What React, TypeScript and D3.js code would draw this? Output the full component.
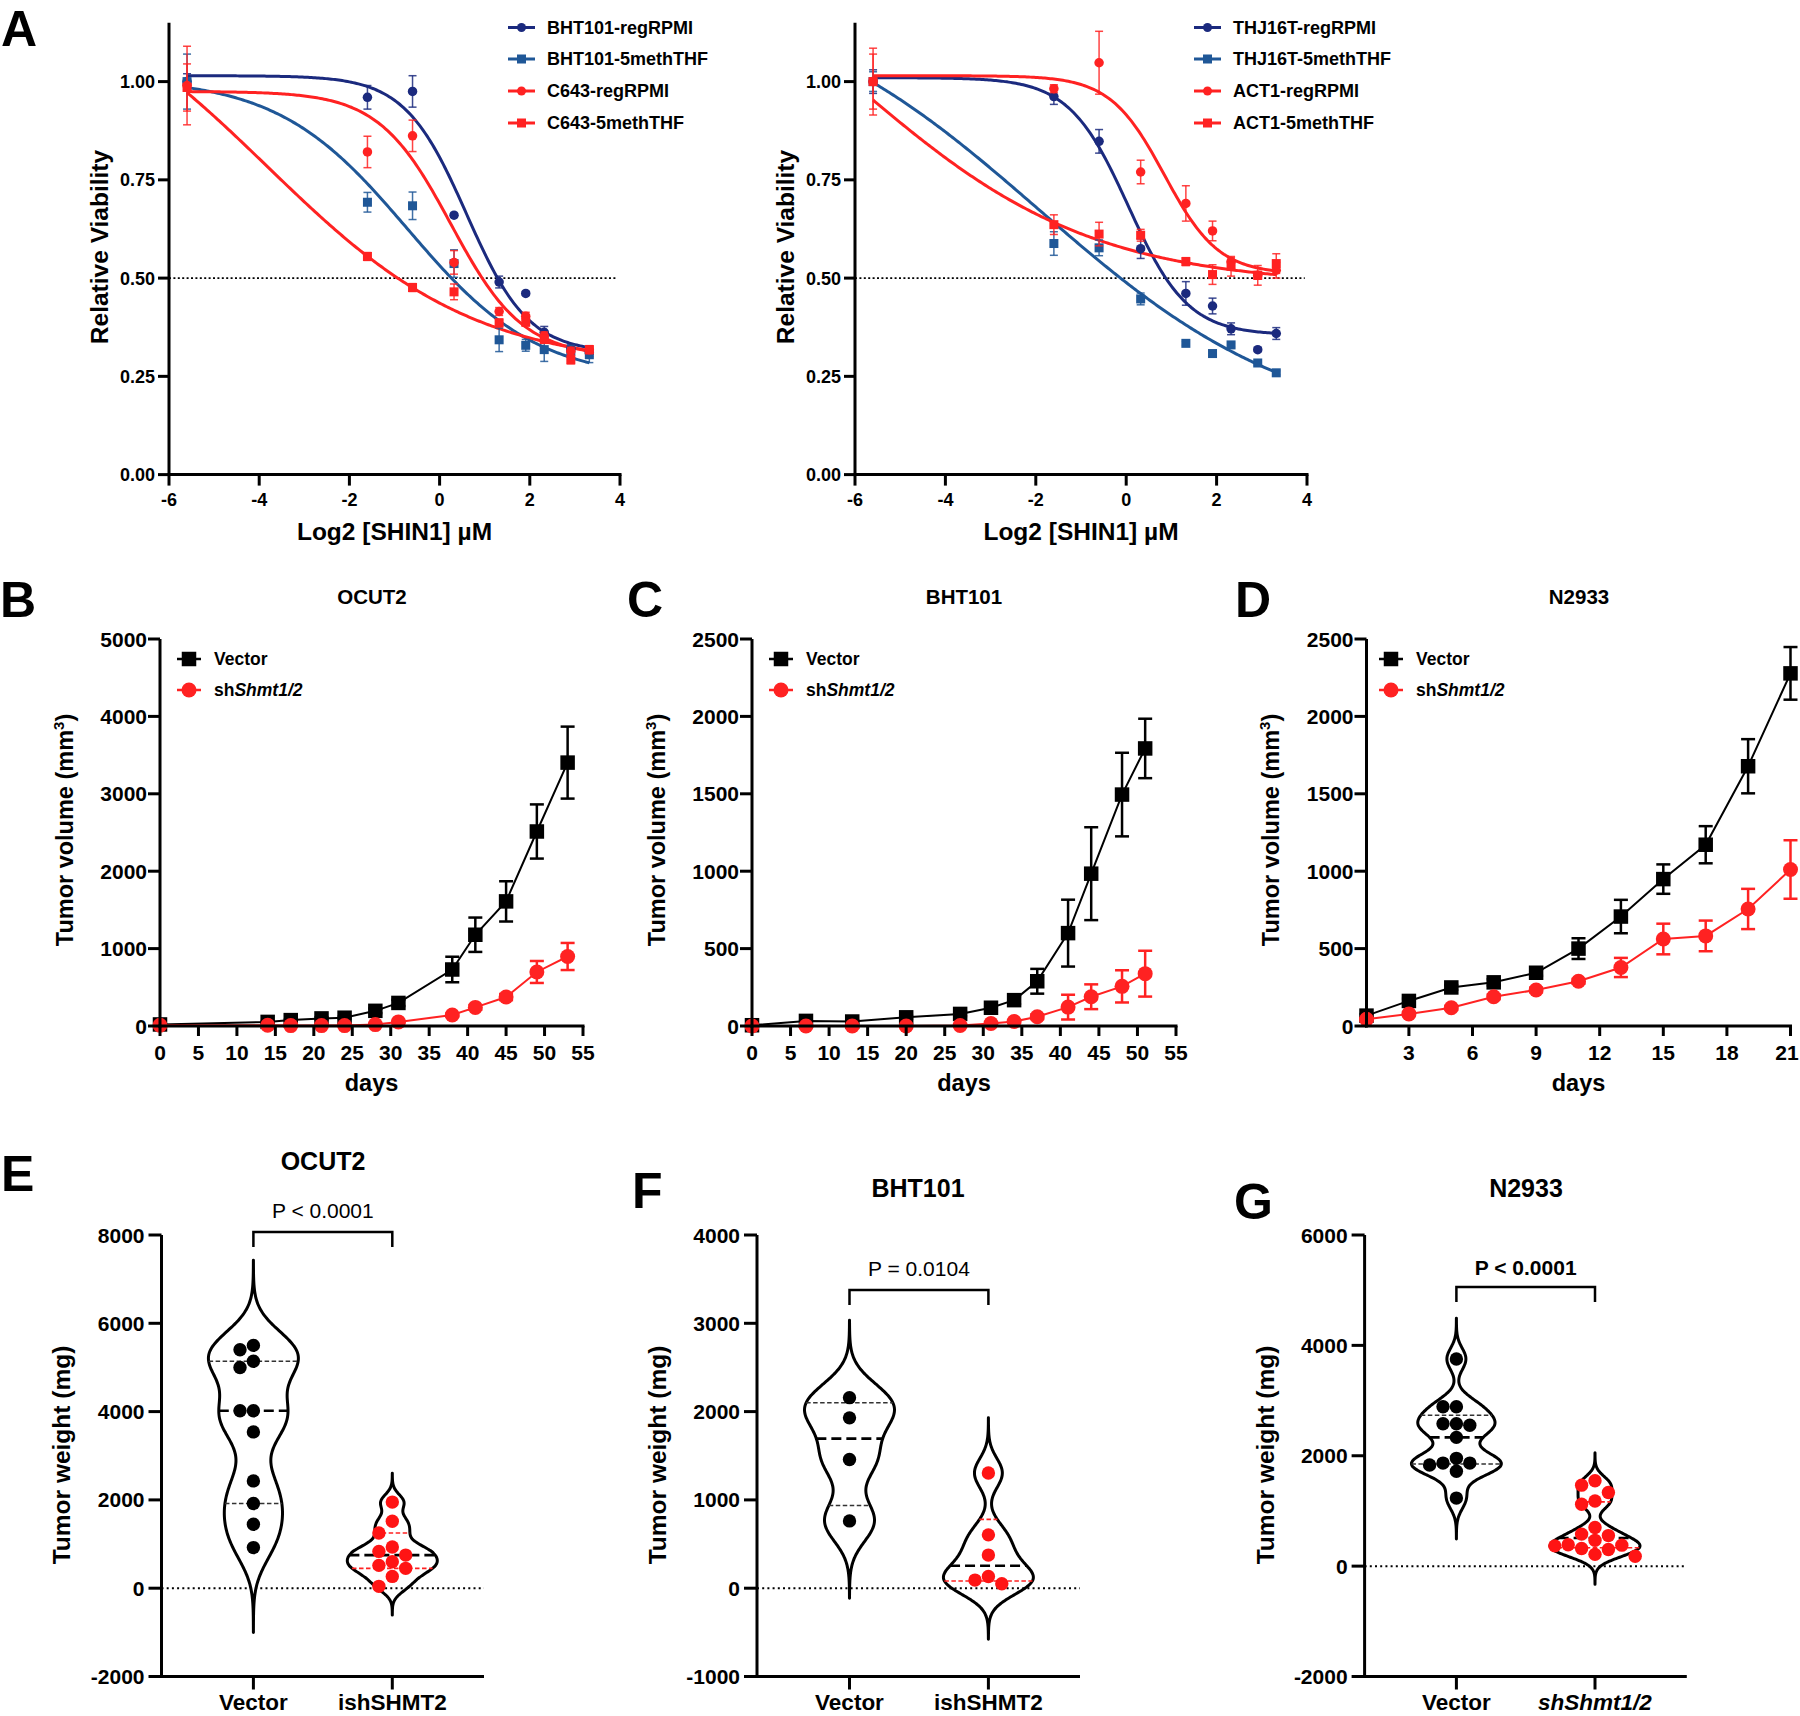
import React from "react";
import * as d3 from "d3";

const FONT = "'Liberation Sans', Arial, Helvetica, sans-serif";
const NAVY = "#1b2a7e";
const BLUE = "#1f5797";
const RED = "#ff2222";
const DOT_RED = "#ff1414";

// ---------- Panel A: dose response (log2 [SHIN1] uM) ----------
const doses = [-5.6, -1.6, -0.6, 0.32, 1.32, 1.91, 2.32, 2.91, 3.32];
const aTicksX = [-6, -4, -2, 0, 2, 4];
const aTicksY = [0, 0.25, 0.5, 0.75, 1.0];

const bht101Reg = [1.0, 0.96, 0.975, 0.66, 0.49, 0.461, 0.362, 0.32, 0.31];
const bht101RegErr = [0.02, 0.03, 0.04, 0.005, 0.015, 0.005, 0.015, 0.01, 0.01];
const bht101RegFit = [1.015, 0.31, 0.6, 2.1]; // top, bottom, mid (log2), hill
const bht101Meth = [1.0, 0.693, 0.684, 0.537, 0.343, 0.329, 0.318, 0.314, 0.305];
const bht101MethErr = [0.07, 0.025, 0.035, 0.035, 0.03, 0.015, 0.03, 0.015, 0.02];
const bht101MethFit = [1.01, 0.24, -0.71, 1.0];
const c643Reg = [0.99, 0.821, 0.862, 0.54, 0.415, 0.403, 0.353, 0.314, 0.318];
const c643RegErr = [0.1, 0.04, 0.04, 0.03, 0.01, 0.01, 0.01, 0.01, 0.01];
const c643RegFit = [0.975, 0.3, 0.25, 1.8];
const c643Meth = [0.985, 0.555, 0.476, 0.465, 0.386, 0.388, 0.344, 0.292, 0.318];
const c643MethErr = [0.06, 0.01, 0.01, 0.02, 0.01, 0.01, 0.01, 0.01, 0.01];
const c643MethFit = [1.3, 0.27, -3.83, 0.62];

const thj16tReg = [1.0, 0.962, 0.848, 0.575, 0.461, 0.429, 0.371, 0.318, 0.359];
const thj16tRegErr = [0.03, 0.02, 0.03, 0.025, 0.03, 0.02, 0.015, 0.005, 0.015];
const thj16tRegFit = [1.01, 0.355, 0.05, 2.2];
const thj16tMeth = [1.0, 0.588, 0.577, 0.447, 0.334, 0.308, 0.33, 0.284, 0.259];
const thj16tMethErr = [0.025, 0.03, 0.02, 0.015, 0.005, 0.005, 0.005, 0.005, 0.005];
const thj16tMethFit = [1.25, 0.1, -1.94, 0.5];
const act1Reg = [1.0, 0.982, 1.048, 0.77, 0.69, 0.62, 0.542, 0.507, 0.52];
const act1RegErr = [0.085, 0.01, 0.08, 0.03, 0.045, 0.025, 0.01, 0.01, 0.02];
const act1RegFit = [1.015, 0.51, 0.845, 2.4];
const act1Meth = [1.0, 0.636, 0.612, 0.609, 0.542, 0.509, 0.53, 0.507, 0.537];
const act1MethErr = [0.07, 0.025, 0.03, 0.015, 0.01, 0.025, 0.025, 0.025, 0.025];
const act1MethFit = [1.5, 0.48, -5.98, 0.55];

// ---------- Panels B-D: tumor growth ----------
const bDays = [0, 14, 17, 21, 24, 28, 31, 38, 41, 45, 49, 53];
const bVector = [20, 53, 76, 98, 107, 196, 298, 730, 1179, 1610, 2513, 3403];
const bVectorErr = [5, 10, 10, 15, 15, 30, 40, 165, 222, 260, 350, 465];
const bSh = [10, 9, 5, 5, 5, 18, 53, 142, 240, 374, 698, 898];
const bShErr = [2, 2, 2, 2, 2, 5, 10, 20, 30, 40, 142, 175];

const cDays = [0, 7, 13, 20, 27, 31, 34, 37, 41, 44, 48, 51];
const cVector = [5, 33, 29, 56, 78, 118, 167, 289, 600, 984, 1495, 1793];
const cVectorErr = [2, 8, 8, 10, 15, 20, 25, 80, 216, 300, 270, 192];
const cSh = [0, 0, 0, 0, 3, 16, 29, 60, 122, 189, 256, 338];
const cShErr = [0, 0, 0, 0, 2, 5, 8, 15, 80, 80, 104, 148];

const dDays = [1, 3, 5, 7, 9, 11, 13, 15, 17, 19, 21];
const dVector = [67, 162, 249, 282, 344, 500, 707, 949, 1171, 1678, 2278];
const dVectorErr = [10, 15, 15, 20, 20, 67, 108, 95, 120, 175, 170];
const dSh = [44, 78, 118, 189, 233, 289, 378, 562, 582, 756, 1011];
const dShErr = [8, 10, 12, 15, 15, 15, 62, 99, 99, 130, 189];

const bcTicksX = [0, 5, 10, 15, 20, 25, 30, 35, 40, 45, 50, 55];
const dTicksX = [3, 6, 9, 12, 15, 18, 21];

// ---------- Panels E-G: tumor weight (mg) ----------
const eVector = [5500, 5400, 5140, 5000, 4020, 4020, 3540, 2430, 1920, 1450, 920];
const eSh = [1950, 1517, 1250, 933, 833, 750, 600, 517, 450, 267, 42];
const fVector = [2158, 1929, 1458, 762];
const fSh = [1304, 604, 375, 133, 92, 50];
const gVector = [3753, 2887, 2887, 2580, 2580, 2553, 2333, 1953, 1867, 1867, 1833, 1720, 1233];
const gSh = [1547, 1467, 1333, 1180, 1120, 700, 580, 553, 467, 387, 380, 367, 320, 300, 213, 180];

// ---------- helpers ----------
type Fit = number[];
function fitY(fit: Fit, x: number) {
  const [top, bottom, mid, hill] = fit;
  return bottom + (top - bottom) / (1 + Math.pow(2, (x - mid) * hill));
}

function quant(values: number[], p: number) {
  const s = [...values].sort((a, b) => a - b);
  const n = s.length;
  const pos = p * (n + 1);
  if (pos <= 1) return s[0];
  if (pos >= n) return s[n - 1];
  const i = Math.floor(pos);
  return s[i - 1] + (pos - i) * (s[i] - s[i - 1]);
}

function Marker({ shape, cx, cy, size, color }: any) {
  if (shape === "square")
    return <rect x={cx - size / 2} y={cy - size / 2} width={size} height={size} fill={color} />;
  return <circle cx={cx} cy={cy} r={size / 2} fill={color} />;
}

// ---------- Panel A ----------
type DoseSeries = { name: string; color: string; shape: string; values: number[]; err: number[]; fit: Fit };

const aLeft: DoseSeries[] = [
  { name: "BHT101-regRPMI", color: NAVY, shape: "circle", values: bht101Reg, err: bht101RegErr, fit: bht101RegFit },
  { name: "BHT101-5methTHF", color: BLUE, shape: "square", values: bht101Meth, err: bht101MethErr, fit: bht101MethFit },
  { name: "C643-regRPMI", color: RED, shape: "circle", values: c643Reg, err: c643RegErr, fit: c643RegFit },
  { name: "C643-5methTHF", color: RED, shape: "square", values: c643Meth, err: c643MethErr, fit: c643MethFit },
];
const aRight: DoseSeries[] = [
  { name: "THJ16T-regRPMI", color: NAVY, shape: "circle", values: thj16tReg, err: thj16tRegErr, fit: thj16tRegFit },
  { name: "THJ16T-5methTHF", color: BLUE, shape: "square", values: thj16tMeth, err: thj16tMethErr, fit: thj16tMethFit },
  { name: "ACT1-regRPMI", color: RED, shape: "circle", values: act1Reg, err: act1RegErr, fit: act1RegFit },
  { name: "ACT1-5methTHF", color: RED, shape: "square", values: act1Meth, err: act1MethErr, fit: act1MethFit },
];

function DosePanel({ x0, x1, legX, ylabX, series }: any) {
  const x = d3.scaleLinear().domain([-6, 4]).range([x0, x1]);
  const y = d3.scaleLinear().domain([0, 1.15]).range([474.6, 22.65]);
  const grid = d3.range(doses[0], doses[doses.length - 1] + 0.0001, 0.04);
  const line = d3.line<number>().x((d) => x(d)).curve(d3.curveLinear);
  const legRows = [27.5, 59, 91, 123];
  return (
    <g fontFamily={FONT}>
      {/* 50% line */}
      <line x1={x(-6)} x2={x(3.95)} y1={y(0.5)} y2={y(0.5)} stroke="#000" strokeWidth={1.6} strokeDasharray="2,2.4" />
      {series.map((s: DoseSeries, i: number) => (
        <path key={"c" + i} d={line.y((d) => y(fitY(s.fit, d)))(grid) || ""} fill="none" stroke={s.color} strokeWidth={3} />
      ))}
      {series.map((s: DoseSeries, i: number) => (
        <g key={"p" + i}>
          {s.values.map((v, j) => (
            <g key={j} stroke={s.color} strokeWidth={1.5} strokeOpacity={0.85}>
              <line x1={x(doses[j])} x2={x(doses[j])} y1={y(v - s.err[j])} y2={y(v + s.err[j])} />
              <line x1={x(doses[j]) - 4} x2={x(doses[j]) + 4} y1={y(v - s.err[j])} y2={y(v - s.err[j])} />
              <line x1={x(doses[j]) - 4} x2={x(doses[j]) + 4} y1={y(v + s.err[j])} y2={y(v + s.err[j])} />
            </g>
          ))}
          {s.values.map((v, j) => (
            <Marker key={"m" + j} shape={s.shape} cx={x(doses[j])} cy={y(v)} size={s.shape === "square" ? 9 : 9.5} color={s.color} />
          ))}
        </g>
      ))}
      {/* axes */}
      <line x1={x0} x2={x0} y1={y(1.15)} y2={y(0) + 1.5} stroke="#000" strokeWidth={3} />
      <line x1={x0 - 1.5} x2={x1 + 1.5} y1={y(0)} y2={y(0)} stroke="#000" strokeWidth={3} />
      {aTicksY.map((t) => (
        <g key={t}>
          <line x1={x0 - 11} x2={x0} y1={y(t)} y2={y(t)} stroke="#000" strokeWidth={3} />
          <text x={x0 - 14} y={y(t)} dy="0.36em" textAnchor="end" fontSize={18} fontWeight="bold">
            {d3.format(".2f")(t)}
          </text>
        </g>
      ))}
      {aTicksX.map((t) => (
        <g key={t}>
          <line x1={x(t)} x2={x(t)} y1={y(0)} y2={y(0) + 11} stroke="#000" strokeWidth={3} />
          <text x={x(t)} y={506} textAnchor="middle" fontSize={18} fontWeight="bold">
            {String(t)}
          </text>
        </g>
      ))}
      <text x={(x0 + x1) / 2} y={540} textAnchor="middle" fontSize={24.5} fontWeight="bold">
        Log2 [SHIN1] µM
      </text>
      <text transform={`translate(${ylabX},247) rotate(-90)`} dy="0.36em" textAnchor="middle" fontSize={24.5} fontWeight="bold">
        Relative Viability
      </text>
      {/* legend */}
      {series.map((s: DoseSeries, i: number) => (
        <g key={"l" + i}>
          <line x1={legX} x2={legX + 27} y1={legRows[i]} y2={legRows[i]} stroke={s.color} strokeWidth={3} />
          <Marker shape={s.shape} cx={legX + 13.5} cy={legRows[i]} size={9} color={s.color} />
          <text x={legX + 39} y={legRows[i]} dy="0.36em" fontSize={18} fontWeight="bold">
            {s.name}
          </text>
        </g>
      ))}
    </g>
  );
}

// ---------- Panels B-D ----------
function GrowthPanel({ xDomain, xRange, yMax, yStep, xTicks, days, vec, vecErr, sh, shErr, title, titleX, legX, ylabX }: any) {
  const x = d3.scaleLinear().domain(xDomain).range(xRange);
  const y = d3.scaleLinear().domain([0, yMax]).range([1026, 639]);
  const yTicks = d3.range(0, yMax + 1, yStep);
  const ax = xRange[0];
  const lineGen = d3.line<number>().x((_, i) => x(days[i])).y((d) => y(d));
  const errBars = (vals: number[], errs: number[], color: string) =>
    vals.map((v, i) => (
      <g key={i} stroke={color} strokeWidth={2.5}>
        <line x1={x(days[i])} x2={x(days[i])} y1={y(v - errs[i])} y2={y(v + errs[i])} />
        <line x1={x(days[i]) - 7} x2={x(days[i]) + 7} y1={y(v + errs[i])} y2={y(v + errs[i])} />
        <line x1={x(days[i]) - 7} x2={x(days[i]) + 7} y1={y(Math.max(0, v - errs[i]))} y2={y(Math.max(0, v - errs[i]))} />
      </g>
    ));
  return (
    <g fontFamily={FONT}>
      <text x={titleX} y={604} textAnchor="middle" fontSize={20.5} fontWeight="bold">
        {title}
      </text>
      {/* series */}
      <path d={lineGen(vec) || ""} fill="none" stroke="#000" strokeWidth={2} />
      {errBars(vec, vecErr, "#000")}
      {vec.map((v: number, i: number) => (
        <Marker key={"v" + i} shape="square" cx={x(days[i])} cy={y(v)} size={14.5} color="#000" />
      ))}
      <path d={lineGen(sh) || ""} fill="none" stroke={RED} strokeWidth={2} />
      {errBars(sh, shErr, RED)}
      {sh.map((v: number, i: number) => (
        <Marker key={"s" + i} shape="circle" cx={x(days[i])} cy={y(v)} size={15} color={RED} />
      ))}
      {/* axes */}
      <line x1={ax} x2={ax} y1={y(yMax)} y2={y(0) + 1.5} stroke="#000" strokeWidth={3} />
      <line x1={ax - 1.5} x2={xRange[1] + 1.5} y1={y(0)} y2={y(0)} stroke="#000" strokeWidth={3} />
      {yTicks.map((t: number) => (
        <g key={t}>
          <line x1={ax - 12} x2={ax} y1={y(t)} y2={y(t)} stroke="#000" strokeWidth={3} />
          <text x={ax - 13} y={y(t)} dy="0.36em" textAnchor="end" fontSize={21} fontWeight="bold">
            {String(t)}
          </text>
        </g>
      ))}
      {xTicks.map((t: number) => (
        <g key={t}>
          <line x1={x(t)} x2={x(t)} y1={y(0)} y2={y(0) + 10} stroke="#000" strokeWidth={3} />
          <text x={Math.min(x(t), 1787)} y={1060} textAnchor="middle" fontSize={21} fontWeight="bold">
            {String(t)}
          </text>
        </g>
      ))}
      <text x={(xRange[0] + xRange[1]) / 2} y={1091} textAnchor="middle" fontSize={23.5} fontWeight="bold">
        days
      </text>
      <text transform={`translate(${ylabX},830) rotate(-90)`} dy="0.36em" textAnchor="middle" fontSize={23.5} fontWeight="bold">
        Tumor volume (mm<tspan dy={-9} fontSize={15}>3</tspan>
        <tspan dy={9}>)</tspan>
      </text>
      {/* legend */}
      <line x1={legX - 12} x2={legX + 12} y1={659} y2={659} stroke="#000" strokeWidth={2.5} />
      <Marker shape="square" cx={legX} cy={659} size={14.5} color="#000" />
      <text x={legX + 25} y={659} dy="0.36em" fontSize={17.5} fontWeight="bold">
        Vector
      </text>
      <line x1={legX - 12} x2={legX + 12} y1={690} y2={690} stroke={RED} strokeWidth={2.5} />
      <Marker shape="circle" cx={legX} cy={690} size={15} color={RED} />
      <text x={legX + 25} y={690} dy="0.36em" fontSize={17.5} fontWeight="bold">
        sh<tspan fontStyle="italic">Shmt1/2</tspan>
      </text>
    </g>
  );
}

// ---------- Panels E-G ----------
function violin(values: number[]) {
  const n = values.length;
  const sd = d3.deviation(values) || 1;
  const h = 0.5 * sd * Math.pow(n, -0.2);
  const lo = (d3.min(values) as number) - 3.75 * h;
  const hi = (d3.max(values) as number) + 3.75 * h;
  const dens = (p: number) => d3.sum(values, (v) => Math.exp(-0.5 * ((p - v) / h) ** 2));
  const pts = d3.range(0, 201).map((i) => lo + ((hi - lo) * i) / 200);
  const dmax = d3.max(pts, dens) as number;
  return { pts: pts.map((p) => [p, dens(p) / dmax] as [number, number]), at: (p: number) => dens(p) / dmax };
}

function swarm(values: number[], py: (v: number) => number, r: number) {
  const placed: { x: number; y: number }[] = [];
  return values.map((v) => {
    const yy = py(v);
    let off = 0;
    for (let k = 0; k < 30; k++) {
      const o = k === 0 ? 0 : (k % 2 ? -1 : 1) * Math.ceil(k / 2) * 2 * r;
      if (placed.every((p) => Math.hypot(p.x - o, p.y - yy) >= 2 * r - 0.6)) {
        off = o;
        break;
      }
    }
    placed.push({ x: off, y: yy });
    return { off, yy };
  });
}

function ViolinPanel({ axisX, axisEnd, cats, yDomain, yStep, groups, labels, title, titleX, pText, pBold, pY, bracketY, ylabX }: any) {
  const y = d3.scaleLinear().domain(yDomain).range([1676.5, 1235]);
  const yTicks = d3.range(yDomain[0], yDomain[1] + 1, yStep);
  const W = 45;
  const r = 6.7;
  return (
    <g fontFamily={FONT}>
      <text x={titleX} y={title.y} textAnchor="middle" fontSize={25} fontWeight="bold">
        {title.text}
      </text>
      {/* zero line */}
      <line x1={axisX} x2={axisEnd} y1={y(0)} y2={y(0)} stroke="#000" strokeWidth={2} strokeDasharray="2,3.2" />
      {groups.map((g: any, gi: number) => {
        const cx = cats[gi];
        const vi = violin(g.values);
        const area = d3
          .area<[number, number]>()
          .y((d) => y(d[0]))
          .x0((d) => cx - W * d[1])
          .x1((d) => cx + W * d[1])
          .curve(d3.curveBasis);
        const q1 = quant(g.values, 0.25);
        const med = quant(g.values, 0.5);
        const q3 = quant(g.values, 0.75);
        const dots = swarm(g.values, y, r);
        return (
          <g key={gi}>
            <path d={area(vi.pts) || ""} fill="none" stroke="#000" strokeWidth={3} strokeLinejoin="round" />
            {[q1, q3].map((q, qi) => (
              <line key={qi} x1={cx - W * vi.at(q)} x2={cx + W * vi.at(q)} y1={y(q)} y2={y(q)} stroke={g.qColor} strokeWidth={1.6} strokeDasharray="4.5,2.5" />
            ))}
            <line x1={cx - W * vi.at(med)} x2={cx + W * vi.at(med)} y1={y(med)} y2={y(med)} stroke="#000" strokeWidth={2.6} strokeDasharray="10,5" />
            {dots.map((d, di) => (
              <circle key={di} cx={cx + d.off} cy={d.yy} r={r} fill={g.color} />
            ))}
          </g>
        );
      })}
      {/* bracket */}
      <path d={`M${cats[0]},${bracketY + 15}V${bracketY}H${cats[1]}V${bracketY + 15}`} fill="none" stroke="#000" strokeWidth={2.5} />
      <text x={(cats[0] + cats[1]) / 2} y={pY} textAnchor="middle" fontSize={21} fontWeight={pBold ? "bold" : "normal"}>
        {pText}
      </text>
      {/* axes */}
      <line x1={axisX} x2={axisX} y1={y(yDomain[1])} y2={y(yDomain[0]) + 1.5} stroke="#000" strokeWidth={3} />
      <line x1={axisX - 1.5} x2={axisEnd} y1={y(yDomain[0])} y2={y(yDomain[0])} stroke="#000" strokeWidth={3} />
      {yTicks.map((t: number) => (
        <g key={t}>
          <line x1={axisX - 13} x2={axisX} y1={y(t)} y2={y(t)} stroke="#000" strokeWidth={3} />
          <text x={axisX - 17} y={y(t)} dy="0.36em" textAnchor="end" fontSize={21} fontWeight="bold">
            {String(t)}
          </text>
        </g>
      ))}
      {cats.map((c: number, i: number) => (
        <g key={i}>
          <line x1={c} x2={c} y1={y(yDomain[0])} y2={y(yDomain[0]) + 13} stroke="#000" strokeWidth={3} />
          <text x={c} y={1710} textAnchor="middle" fontSize={22.5} fontWeight="bold" fontStyle={labels[i].italic ? "italic" : "normal"}>
            {labels[i].text}
          </text>
        </g>
      ))}
      <text transform={`translate(${ylabX},1455) rotate(-90)`} dy="0.36em" textAnchor="middle" fontSize={24.5} fontWeight="bold">
        Tumor weight (mg)
      </text>
    </g>
  );
}

function Letter({ x, y, t }: any) {
  return (
    <text x={x} y={y} fontFamily={FONT} fontSize={50} fontWeight="bold">
      {t}
    </text>
  );
}

export default function App() {
  const blackGroup = (values: number[]) => ({ values, color: "#000", qColor: "#333" });
  const redGroup = (values: number[]) => ({ values, color: DOT_RED, qColor: RED });
  return (
    <div style={{ position: "absolute", left: 0, top: 0 }}>
      <svg width={1800} height={1716} style={{ display: "block", background: "#fff" }}>
        <Letter x={1} y={46} t="A" />
        <DosePanel x0={169} x1={620} legX={508} ylabX={99} series={aLeft} />
        <DosePanel x0={855} x1={1307} legX={1194} ylabX={785} series={aRight} />

        <Letter x={0} y={617} t="B" />
        <Letter x={627} y={617} t="C" />
        <Letter x={1235} y={617} t="D" />
        <GrowthPanel xDomain={[0, 55]} xRange={[160, 583]} yMax={5000} yStep={1000} xTicks={bcTicksX} days={bDays}
          vec={bVector} vecErr={bVectorErr} sh={bSh} shErr={bShErr} title="OCUT2" titleX={372} legX={189} ylabX={65} />
        <GrowthPanel xDomain={[0, 55]} xRange={[752, 1176]} yMax={2500} yStep={500} xTicks={bcTicksX} days={cDays}
          vec={cVector} vecErr={cVectorErr} sh={cSh} shErr={cShErr} title="BHT101" titleX={964} legX={781} ylabX={657} />
        <GrowthPanel xDomain={[1, 21]} xRange={[1366.5, 1790.5]} yMax={2500} yStep={500} xTicks={dTicksX} days={dDays}
          vec={dVector} vecErr={dVectorErr} sh={dSh} shErr={dShErr} title="N2933" titleX={1579} legX={1391} ylabX={1271} />

        <Letter x={1} y={1191} t="E" />
        <Letter x={632} y={1208} t="F" />
        <Letter x={1234} y={1219} t="G" />
        <ViolinPanel axisX={161.5} axisEnd={484} cats={[253.4, 392.3]} yDomain={[-2000, 8000]} yStep={2000}
          groups={[blackGroup(eVector), redGroup(eSh)]} labels={[{ text: "Vector" }, { text: "ishSHMT2" }]}
          title={{ text: "OCUT2", y: 1170 }} titleX={323} pText="P < 0.0001" pBold={false} pY={1218} bracketY={1232} ylabX={61} />
        <ViolinPanel axisX={757} axisEnd={1080} cats={[849.5, 988.4]} yDomain={[-1000, 4000]} yStep={1000}
          groups={[blackGroup(fVector), redGroup(fSh)]} labels={[{ text: "Vector" }, { text: "ishSHMT2" }]}
          title={{ text: "BHT101", y: 1197 }} titleX={918} pText="P = 0.0104" pBold={false} pY={1276} bracketY={1290} ylabX={657} />
        <ViolinPanel axisX={1364.6} axisEnd={1686.8} cats={[1456.4, 1595]} yDomain={[-2000, 6000]} yStep={2000}
          groups={[blackGroup(gVector), redGroup(gSh)]} labels={[{ text: "Vector" }, { text: "shShmt1/2", italic: true }]}
          title={{ text: "N2933", y: 1197 }} titleX={1526} pText="P < 0.0001" pBold={true} pY={1275} bracketY={1287} ylabX={1265} />
      </svg>
    </div>
  );
}
